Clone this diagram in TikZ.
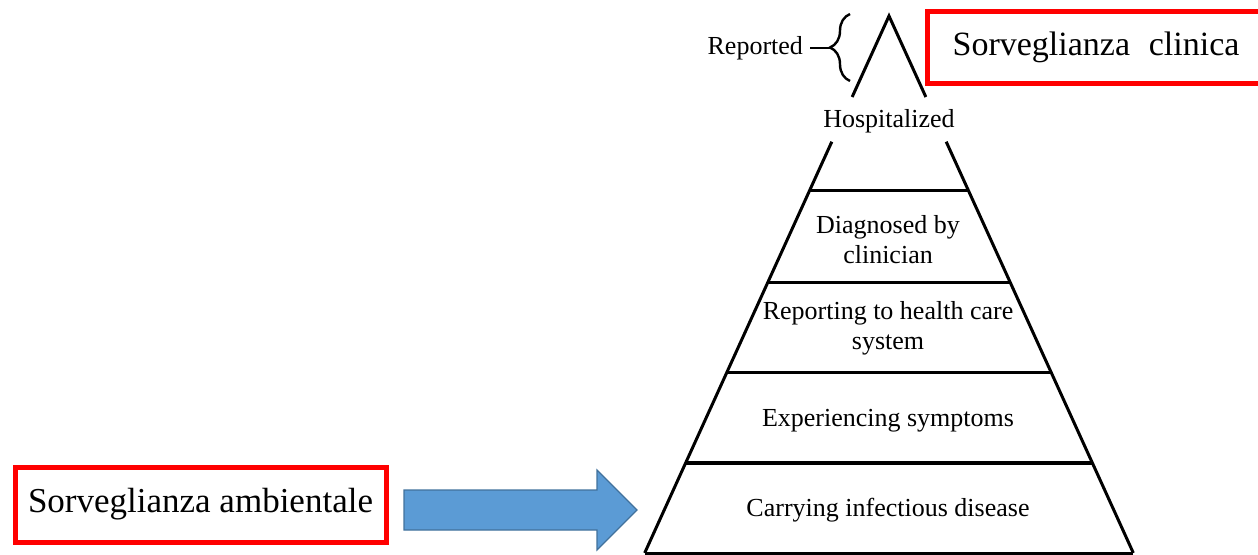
\documentclass[tikz,border=0pt]{standalone}
\usepackage{fontspec}
\setmainfont{Liberation Serif}
\usepackage{tikz}
\usepackage{xcolor}
\usetikzlibrary{
    decorations.pathreplacing,
    calc,
    positioning
}
\definecolor{boxred}{RGB}{255,0,0}
\definecolor{arrowblue}{RGB}{91,155,213}
\definecolor{arrowrim}{RGB}{65,113,156}

\begin{document}
\begin{tikzpicture}[x=0.5pt, y=-0.5pt,
    pyr/.style={line width=1.5pt},
    lbl/.style={font=\fontsize{13}{15}\selectfont, align=center},
    redbox/.style={draw=boxred, line width=2.5pt, inner sep=0pt, font=\fontsize{17.5}{21}\selectfont}]
                                \useasboundingbox (0, 0) rectangle (1258, 555);
                                % pyramid outline
                                \coordinate (apex) at (889, 16);
                                \draw[pyr] ({889-0.455*81}, 97) -- (apex) -- ({889+0.455*81}, 97);
                                \draw[pyr] ({889-0.455*125.7}, 141.7) -- ({889-0.455*537}, 553);
                                \draw[pyr] ({889+0.455*125.7}, 141.7) -- ({889+0.455*537}, 553);
                                \foreach \y in {191, 283, 373, 463, 553}
                                    \draw[pyr] ({889-0.455*(\y-16)}, \y) -- ({889+0.455*(\y-16)}, \y);
                                % levels
                                \node[lbl] (hosp) at (889, 121) {Hospitalized};
                                \node[lbl] (diag) at (888, 240) {Diagnosed by\\clinician};
                                \node[lbl] (rept) at (888, 328) {Reporting to health care\\system};
                                \node[lbl] (symp) at (888, 421) {Experiencing symptoms};
                                \node[lbl] (carr) at (888, 510) {Carrying infectious disease};
                                % reported brace
                                \node[lbl, anchor=east] (repd) at (810, 48) {Reported};
                                \coordinate (brtip) at (830, 48);
                                \draw[line width=1.2pt, decorate, decoration={brace, amplitude=10pt}] (850, 81) -- (850, 14);
                                \draw[line width=1.2pt] (repd.east) -- (brtip);
                                % surveillance boxes
                                \node[redbox, font=\fontsize{17}{21}\selectfont, minimum width=168.75pt, minimum height=36.25pt] (clin) at (1096, 47.75) {Sorveglianza\hspace{0.3em} clinica};
                                \node[redbox, minimum width=185.5pt, minimum height=37.5pt] (amb) at (200.5, 504.5) {Sorveglianza ambientale};
                                \draw[fill=arrowblue, draw=arrowrim, line width=0.6pt]
                                (404, 490) -- (597, 490) -- (597, 470) -- (637, 510) -- (597, 550) -- (597, 530) -- (404, 530) -- cycle;
                            \end{tikzpicture}
\end{document}
